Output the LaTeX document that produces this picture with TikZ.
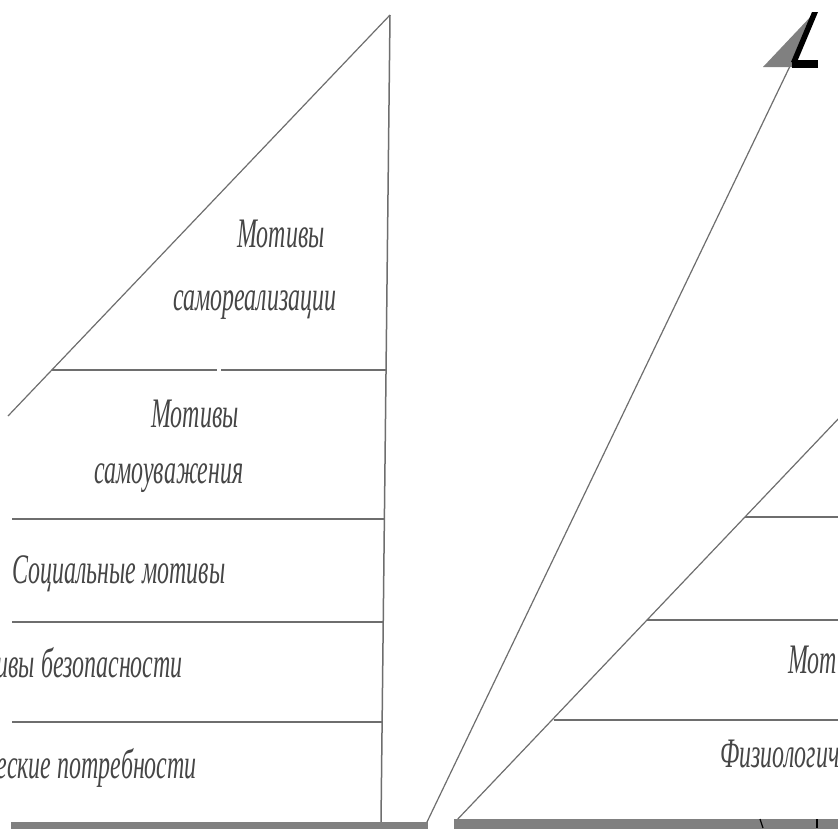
\documentclass[tikz,border=0pt]{standalone}
\usepackage{fontspec}
\setmainfont{Liberation Serif}
\usepackage{graphicx}
\definecolor{ln}{RGB}{110,110,110}
\definecolor{tx}{RGB}{70,70,70}
\definecolor{bar}{RGB}{128,128,128}
\newcommand{\sq}[1]{\scalebox{0.57}[1]{#1}}
\begin{document}
\begin{tikzpicture}[x=1pt,y=-1pt,
  ln/.style={draw=ln,line width=1.5pt},
  hyp/.style={draw=ln,line width=1.2pt},
  lbl/.style={text=tx,inner sep=0pt,font=\fontsize{42}{46}\selectfont\itshape}]
\useasboundingbox (0,0) rectangle (838,828);
\clip (0,0) rectangle (838,828);
\fill[white] (0,0) rectangle (838,828);
% left pyramid
\draw[ln] (390,15) -- (381,822);
\draw[hyp] (390,15) -- (8,416);
\draw[ln] (52,370) -- (217,370);
\draw[ln] (221,370) -- (386,370);
\draw[ln] (12,519) -- (384,519);
\draw[ln] (12,622) -- (383,622);
\draw[ln] (12,722) -- (382,722);
\fill[bar] (11,822) rectangle (428,830);
% long diagonal and marker
\draw[hyp] (791,64) -- (427,822);
\fill[bar] (763,67) -- (815,12) -- (793,67) -- cycle;
\fill[black] (812,12) -- (818,12) -- (797,62) -- (791,62) -- cycle;
\fill[black] (792,60) rectangle (818,68);
% right pyramid
\draw[hyp] (840,417) -- (455,822);
\draw[ln] (745,517) -- (840,517);
\draw[ln] (647,620) -- (840,620);
\draw[ln] (554,720) -- (840,720);
\fill[bar] (454,819) rectangle (840,830);
\draw[black,line width=1.2pt] (817,819) -- (817,828);
\draw[black,line width=1.2pt] (760,819) -- (763,828);
% labels
\node[lbl,anchor=base] (t1) at (281,247) {\sq{Мотивы}};
\node[lbl,anchor=base] (t2) at (255,310) {\sq{самореализации}};
\node[lbl,anchor=base] (t3) at (195,427) {\sq{Мотивы}};
\node[lbl,anchor=base] (t4) at (169,483) {\sq{самоуважения}};
\node[lbl,anchor=base west] (t5) at (12,583) {\sq{Социальные мотивы}};
\node[lbl,anchor=base east] (t6) at (183,677) {\sq{Мотивы безопасности}};
\node[lbl,anchor=base east] (t7) at (197,778) {\sq{Физиологические потребности}};
\node[lbl,anchor=base west] (t8) at (788,673) {\sq{Мотивы безопасности}};
\node[lbl,anchor=base west] (t9) at (720,767) {\sq{Физиологические потребности}};
\end{tikzpicture}
\end{document}
